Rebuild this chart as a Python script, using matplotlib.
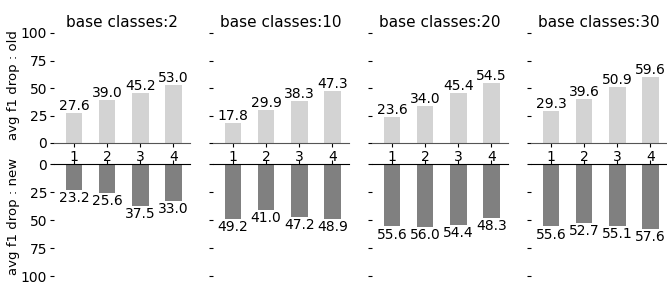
import matplotlib.pyplot as plt

# Data
base_classes = [2, 10, 20, 30]
steps = [1, 2, 3, 4]
old_drop = [
    [27.6, 39.0, 45.2, 53.0],
    [17.8, 29.9, 38.3, 47.3],
    [23.6, 34.0, 45.4, 54.5],
    [29.3, 39.6, 50.9, 59.6],
]
new_drop = [
    [23.2, 25.6, 37.5, 33.0],
    [49.2, 41.0, 47.2, 48.9],
    [55.6, 56.0, 54.4, 48.3],
    [55.6, 52.7, 55.1, 57.6],
]
yticks = [0, 25, 50, 75, 100]

fig = plt.figure(figsize=(6.67, 2.82), dpi=100)

W, H = 667, 282
lefts = [54, 213, 372, 531]
width = 136

for i, bc in enumerate(base_classes):
    # top row: drop on old classes
    ax = fig.add_axes([lefts[i] / W, 1 - 143 / H, width / W, 110 / H])
    ax.bar(steps, old_drop[i], width=0.5, color='lightgray')
    for x, v in zip(steps, old_drop[i]):
        ax.annotate(f'{v:.1f}', (x, v), xytext=(0, 0), textcoords='offset points',
                    ha='center', va='bottom', fontsize=10)
    ax.set_ylim(0, 100)
    ax.set_xlim(0.4, 4.5)
    ax.set_xticks(steps)
    ax.set_yticks(yticks)
    ax.tick_params(axis='both', labelsize=10, length=3, pad=2)
    for s in ['top', 'right', 'left']:
        ax.spines[s].set_visible(False)
    ax.spines['bottom'].set_color('#555555')
    ax.set_title(f'base classes:{bc}', fontsize=11, pad=4)
    if i == 0:
        ax.set_ylabel('avg f1 drop : old', fontsize=9.5)
        ax.yaxis.set_label_coords(-0.25, 0.53)
    else:
        ax.set_yticklabels([])

    # bottom row: drop on new classes (inverted)
    ax2 = fig.add_axes([lefts[i] / W, 1 - 276 / H, width / W, 112 / H])
    ax2.bar(steps, new_drop[i], width=0.5, color='gray')
    for x, v in zip(steps, new_drop[i]):
        ax2.annotate(f'{v:.1f}', (x, v), xytext=(0, -1), textcoords='offset points',
                     ha='center', va='top', fontsize=10)
    ax2.set_ylim(100, 0)
    ax2.set_xlim(0.4, 4.5)
    ax2.set_xticks(steps)
    ax2.set_yticks(yticks)
    ax2.xaxis.tick_top()
    ax2.tick_params(axis='x', labeltop=False, length=3)
    ax2.tick_params(axis='y', labelsize=10, length=3, pad=2)
    for s in ['bottom', 'right', 'left']:
        ax2.spines[s].set_visible(False)
    if i == 0:
        ax2.set_ylabel('avg f1 drop : new', fontsize=9.5)
        ax2.yaxis.set_label_coords(-0.25, 0.53)
    else:
        ax2.set_yticklabels([])

fig.savefig('out.png', dpi=100)
plt.close()
